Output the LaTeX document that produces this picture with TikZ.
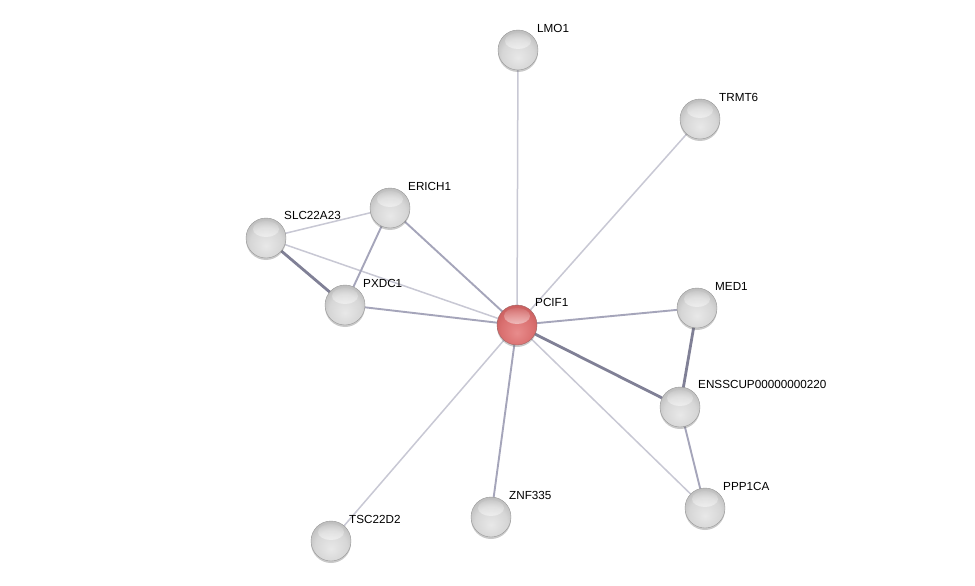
\documentclass[tikz,border=0pt]{standalone}
\usepackage{fontspec}
\setmainfont{Liberation Sans}
\usetikzlibrary{fadings,shadows}
\pgfdeclarelayer{bg}
\pgfsetlayers{bg,main}
\pgfdeclareradialshading{greysphere}{\pgfpoint{0bp}{-10bp}}{color(0bp)=(black!9); color(20bp)=(black!16); color(34bp)=(black!30); color(45bp)=(black!52); color(60bp)=(black!62)}
\pgfdeclareradialshading{redsphere}{\pgfpoint{0bp}{-10bp}}{color(0bp)=(rgb,255:red,232;green,140;blue,140); color(20bp)=(rgb,255:red,218;green,112;blue,112); color(34bp)=(rgb,255:red,196;green,88;blue,88); color(45bp)=(rgb,255:red,150;green,52;blue,52); color(60bp)=(rgb,255:red,130;green,42;blue,42)}
\definecolor{edgeL}{RGB}{200,200,212}
\definecolor{edgeM}{RGB}{165,165,186}
\definecolor{edgeD}{RGB}{128,128,150}
\begin{document}
\begin{tikzpicture}[x=1pt,y=-1pt,
  ball/.style={circle, minimum size=40pt, inner sep=0pt, shading=greysphere, draw=black!40, line width=0.4pt,
    drop shadow={shadow xshift=0pt, shadow yshift=-2pt, opacity=0.35, fill=black!60},
    path picture={\fill[white, path fading=north] ([yshift=9pt]path picture bounding box.center) ellipse (13pt and 8pt);}},
  redball/.style={ball, shading=redsphere, draw=red!40!black!60},
  lab/.style={anchor=west, inner sep=0pt, font=\fontsize{11.7}{14}\selectfont},
  eL/.style={draw=edgeL, line width=1.5pt},
  eM/.style={draw=edgeM, line width=1.9pt},
  eD/.style={draw=edgeD, line width=2.8pt}]
\useasboundingbox (0,0) rectangle (975,586);
% nodes
\node[ball] (LMO1) at (518,50) {};
\node[ball] (TRMT6) at (700,119) {};
\node[ball] (ERICH1) at (390,208) {};
\node[ball] (SLC) at (266,238) {};
\node[ball] (PXDC1) at (345,305) {};
\node[redball] (PCIF1) at (517,325) {};
\node[ball] (MED1) at (697,308) {};
\node[ball] (ENS) at (680,407) {};
\node[ball] (PPP1CA) at (705,508) {};
\node[ball] (ZNF335) at (491,517) {};
\node[ball] (TSC) at (331,541) {};
% labels
\node[lab] (tLMO1) at ([shift={(19,-22)}]LMO1.center) {LMO1};
\node[lab] (tTRMT6) at ([shift={(19,-22)}]TRMT6.center) {TRMT6};
\node[lab] (tERICH1) at ([shift={(18,-22)}]ERICH1.center) {ERICH1};
\node[lab] (tSLC) at ([shift={(18,-23)}]SLC.center) {SLC22A23};
\node[lab] (tPXDC1) at ([shift={(18,-22)}]PXDC1.center) {PXDC1};
\node[lab] (tPCIF1) at ([shift={(18,-23)}]PCIF1.center) {PCIF1};
\node[lab] (tMED1) at ([shift={(18,-22)}]MED1.center) {MED1};
\node[lab] (tENS) at ([shift={(18,-23)}]ENS.center) {ENSSCUP00000000220};
\node[lab] (tPPP1CA) at ([shift={(18,-22)}]PPP1CA.center) {PPP1CA};
\node[lab] (tZNF335) at ([shift={(18,-22)}]ZNF335.center) {ZNF335};
\node[lab] (tTSC) at ([shift={(18,-22)}]TSC.center) {TSC22D2};
% edges
\begin{pgfonlayer}{bg}
\fill[white] (0,0) rectangle (975,586);
\draw[eL] (PCIF1.center) -- (LMO1.center);
\draw[eL] (PCIF1.center) -- (TRMT6.center);
\draw[eM] (PCIF1.center) -- (ERICH1.center);
\draw[eL] (PCIF1.center) -- (SLC.center);
\draw[eM] (PCIF1.center) -- (PXDC1.center);
\draw[eM] (PCIF1.center) -- (MED1.center);
\draw[eD] (PCIF1.center) -- (ENS.center);
\draw[eL] (PCIF1.center) -- (PPP1CA.center);
\draw[eM] (PCIF1.center) -- (ZNF335.center);
\draw[eL] (PCIF1.center) -- (TSC.center);
\draw[eL] (SLC.center) -- (ERICH1.center);
\draw[eD] (SLC.center) -- (PXDC1.center);
\draw[eM] (ERICH1.center) -- (PXDC1.center);
\draw[eD] (MED1.center) -- (ENS.center);
\draw[eM] (ENS.center) -- (PPP1CA.center);
\end{pgfonlayer}
\end{tikzpicture}
\end{document}
